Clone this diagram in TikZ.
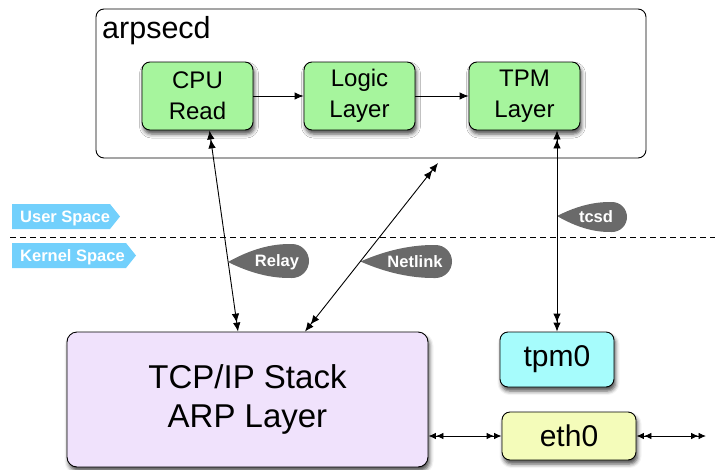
\documentclass[tikz,border=0pt]{standalone}
\usepackage{fontspec}
\setmainfont{Liberation Sans}
\usetikzlibrary{arrows.meta,shadows.blur,calc}
\definecolor{boxgreen}{HTML}{A6F59D}
\definecolor{tcpviolet}{HTML}{F0E2FC}
\definecolor{tpmcyan}{HTML}{A6FCFC}
\definecolor{ethyellow}{HTML}{F4FCBA}
\definecolor{tagblue}{HTML}{72D0FC}
\definecolor{tagdark}{HTML}{6A6A6A}
\tikzset{
  >={Latex[length=9pt,width=7.5pt]},
  boxshadow/.style={blur shadow={shadow xshift=1.5pt, shadow yshift=-4pt, shadow blur radius=4pt, shadow opacity=70}},
  innerbox/.style={draw=black, line width=0.9pt, rounded corners=8pt, boxshadow, inner sep=0pt, align=center},
  greenbox/.style={innerbox, fill=boxgreen, minimum width=111pt, minimum height=68pt, font=\fontsize{24}{31}\selectfont},
  outerbox/.style={draw=black, line width=0.9pt, rounded corners=8pt, fill=white, inner sep=0pt},
  conn/.style={line width=0.9pt},
  smalltips/.style={>={Latex[length=7.5pt,width=6.5pt]}},
  tagtext/.style={text=white, font=\fontsize{16.5}{18}\selectfont\bfseries, inner sep=0pt},
}
\newcommand{\teardrop}[5]{%
  \fill[tagdark] (#1,#2)
    .. controls ({#1+0.5*(#3-#1)},{#4-#5}) and ({#3-0.6*#5},{#4-#5}) .. ({#3},{#4-#5})
    .. controls ({#3+0.5523*#5},{#4-#5}) and ({#3+#5},{#4-0.5523*#5}) .. ({#3+#5},{#4})
    .. controls ({#3+#5},{#4+0.5523*#5}) and ({#3+0.5523*#5},{#4+#5}) .. ({#3},{#4+#5})
    .. controls ({#3-0.6*#5},{#4+#5}) and ({#1+0.5*(#3-#1)},{#4+#5}) .. (#1,#2) -- cycle;}
\begin{document}
\begin{tikzpicture}[x=1pt,y=-1pt]
\useasboundingbox (0,0) rectangle (715,469);

% outer arpsecd box
\node[outerbox, minimum width=550pt, minimum height=149pt] (arp) at (371,83.5) {};
\node[anchor=base west, inner sep=0pt, font=\fontsize{30.5}{34}\selectfont] (arplbl) at (102,38) {arpsecd};

% inner boxes
\node[greenbox] (cpu) at (197.5,96) {CPU\\Read};
\node[greenbox] (logic) at (359.5,96) {Logic\\Layer};
\node[greenbox] (tpm) at (524.5,96) {TPM\\Layer};

\draw[conn,->] (cpu) -- (logic);
\draw[conn,->] (logic) -- (tpm);

% lower boxes
\node[innerbox, rounded corners=10pt, fill=tcpviolet, minimum width=361pt, minimum height=135pt,
      font=\fontsize{33}{39}\selectfont] (tcp) at (247.5,399.5) {TCP/IP Stack\\ARP Layer};
\node[innerbox, fill=tpmcyan, minimum width=114pt, minimum height=55pt,
      font=\fontsize{30}{34}\selectfont] (tpm0) at (557,359.5) {tpm0};
\node[innerbox, fill=ethyellow, minimum width=134pt, minimum height=48pt,
      font=\fontsize{30}{34}\selectfont] (eth) at (569,436) {eth0};

% user/kernel separation
\coordinate (dl) at (10,237);
\coordinate (dr) at (715,237);
\draw[line width=0.9pt, dash pattern=on 6pt off 4pt] (dl) -- (dr);

\fill[tagblue] (12,204) -- (110,204) -- (120,216.5) -- (110,229) -- (12,229) -- cycle;
\node[tagtext, anchor=base west] (user) at (20,222) {User Space};
\fill[tagblue] (12,243) -- (126,243) -- (136,255.5) -- (126,268) -- (12,268) -- cycle;
\node[tagtext, anchor=base west] (kernel) at (20,261.5) {Kernel Space};

% teardrop labels
\teardrop{228}{262}{292}{261}{17}
\node[tagtext] (relay) at (277,262) {Relay};
\teardrop{360.5}{261.5}{435.5}{261.5}{16.5}
\node[tagtext] (netlink) at (415,262) {Netlink};
\teardrop{557}{216}{612}{217}{15}
\node[tagtext] (tcsd) at (596,217) {tcsd};

% connectors
\draw[conn,<<->>] ([xshift=12pt]cpu.south) -- ([xshift=-9.5pt]tcp.north);
\coordinate (nltop) at (438,163);
\draw[conn,<<->>] ([xshift=57.5pt]tcp.north) -- (nltop);
\draw[conn,<<->>] (tpm0.north |- tpm.south) -- (tpm0.north);
\draw[conn,smalltips,<<->>] (tcp.east |- eth.west) -- (eth.west);
\coordinate (ethend) at (706,436);
\draw[conn,smalltips,<<->>] (eth.east) -- (ethend);
\end{tikzpicture}
\end{document}
